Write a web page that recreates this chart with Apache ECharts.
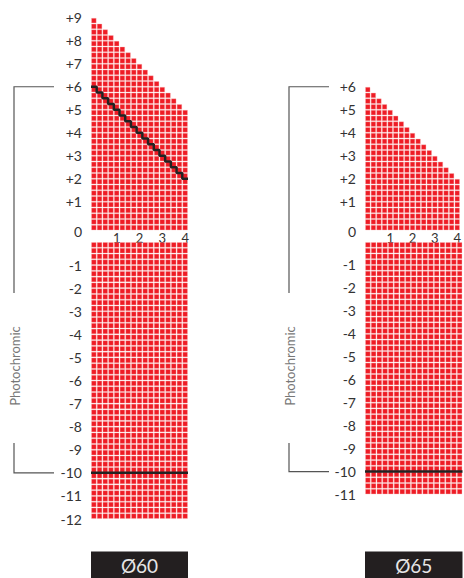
<!DOCTYPE html>
<html>
<head>
<meta charset="utf-8">
<script src="https://cdn.jsdelivr.net/npm/echarts@6/dist/echarts.min.js"></script>
<style>
html,body{margin:0;padding:0;background:#fff;}
#c{width:464px;height:578px;}
</style>
</head>
<body>
<div id="c"></div>
<script>
// ---- data ----
const cylValues = [0, 0.25, 0.5, 0.75, 1, 1.25, 1.5, 1.75, 2, 2.25, 2.5, 2.75, 3, 3.25, 3.5, 3.75, 4];
const maxSph60 = [9, 8.75, 8.5, 8.25, 8, 7.75, 7.5, 7.25, 7, 6.75, 6.5, 6.25, 6, 5.75, 5.5, 5.25, 5];
const minSph60 = [-12, -12, -12, -12, -12, -12, -12, -12, -12, -12, -12, -12, -12, -12, -12, -12, -12];
const maxSph65 = [6, 5.75, 5.5, 5.25, 5, 4.75, 4.5, 4.25, 4, 3.75, 3.5, 3.25, 3, 2.75, 2.5, 2.25, 2];
const minSph65 = [-11, -11, -11, -11, -11, -11, -11, -11, -11, -11, -11, -11, -11, -11, -11, -11, -11];
const sphStep = 0.25;
const photoMaxSum = 6;     // photochromic: sphere + cylinder <= +6
const photoMinSph = -10;   // photochromic: sphere >= -10
const upperTicks60 = [0, 1, 2, 3, 4, 5, 6, 7, 8, 9];
const lowerTicks60 = [-1, -2, -3, -4, -5, -6, -7, -8, -9, -10, -11, -12];
const upperTicks65 = [0, 1, 2, 3, 4, 5, 6];
const lowerTicks65 = [-1, -2, -3, -4, -5, -6, -7, -8, -9, -10, -11];
const cylTicks = [1, 2, 3, 4];
const lensLabels = ['Ø60', 'Ø65'];
const sideLabel = 'Photochromic';

// ---- build ----
const RED = '#ee1c25';
const FONT = 'Lato, "DejaVu Sans", sans-serif';
const PX = 23.0; // px per diopter (upper)

function cells(maxArr, minArr, upper) {
  const out = [];
  cylValues.forEach((c, i) => {
    for (let s = maxArr[i]; s >= minArr[i] - 1e-9; s -= sphStep) {
      const v = Math.round(s * 100) / 100;
      if (upper && v >= 0) out.push([c, v, v - sphStep, v]);
      if (!upper && v < 0) out.push([c, v, v, v + sphStep]);
    }
  });
  return out;
}

function renderCell(params, api) {
  const c = api.value(0), y0 = api.value(2), y1 = api.value(3);
  const p0 = api.coord([c - 0.125, y1]);
  const p1 = api.coord([c + 0.125, y0]);
  return {
    type: 'rect',
    shape: { x: p0[0] + 0.55, y: p0[1] + 0.55, width: p1[0] - p0[0] - 1.1, height: p1[1] - p0[1] - 1.1 },
    style: { fill: RED, stroke: 'rgba(250,170,170,0.55)', lineWidth: 0.6 }
  };
}

const panels = [
  { left: 91, width: 97, max: maxSph60, min: minSph60, up: upperTicks60, lo: lowerTicks60, loBottom: 519 },
  { left: 365, width: 97.5, max: maxSph65, min: minSph65, up: upperTicks65, lo: lowerTicks65, loBottom: 494.5 }
];
const upperBottom = 230.5;
const lowerTop = 242;

const grids = [], xAxes = [], yAxes = [], series = [];
panels.forEach((p, k) => {
  const upMax = Math.max.apply(null, p.max);
  const loMin = Math.min.apply(null, p.min);
  const upH = (upMax + sphStep) * PX;
  grids.push({ left: p.left, width: p.width, top: upperBottom - upH, height: upH });
  grids.push({ left: p.left, width: p.width, top: lowerTop, height: p.loBottom - lowerTop });
  const gi = k * 2;
  // upper
  xAxes.push({
    gridIndex: gi, type: 'value', min: -0.125, max: 4.125,
    axisLine: { show: false }, axisTick: { show: false }, splitLine: { show: false },
    axisLabel: { customValues: cylTicks, margin: 1, fontSize: 13, color: '#333', fontFamily: FONT }
  });
  yAxes.push({
    gridIndex: gi, type: 'value', min: -sphStep, max: upMax,
    axisLine: { show: false }, axisTick: { show: false }, splitLine: { show: false },
    axisLabel: {
      customValues: p.up, margin: 9, fontSize: 14, color: '#333', fontFamily: FONT,
      formatter: v => v > 0 ? '{n|+' + v + '}' : '{z|' + v + '}',
      rich: { n: { fontSize: 14, color: '#333', fontFamily: FONT }, z: { fontSize: 14, color: '#333', fontFamily: FONT, padding: [14, 0, 0, 0] } }
    }
  });
  // lower
  xAxes.push({
    gridIndex: gi + 1, type: 'value', min: -0.125, max: 4.125, show: false
  });
  yAxes.push({
    gridIndex: gi + 1, type: 'value', min: loMin, max: 0,
    axisLine: { show: false }, axisTick: { show: false }, splitLine: { show: false },
    axisLabel: { customValues: p.lo, margin: 9, fontSize: 14, color: '#333', fontFamily: FONT, formatter: v => '' + v }
  });
  series.push({ type: 'custom', xAxisIndex: gi, yAxisIndex: gi, renderItem: renderCell, data: cells(p.max, p.min, true), silent: true, clip: false });
  series.push({ type: 'custom', xAxisIndex: gi + 1, yAxisIndex: gi + 1, renderItem: renderCell, data: cells(p.max, p.min, false), silent: true, clip: false });
  // photochromic limits
  if (upMax > photoMaxSum - cylValues[0]) {
    const pts = cylValues.map(c => [c - 0.125, photoMaxSum - c]);
    pts.push([cylValues[cylValues.length - 1] + 0.125, photoMaxSum - cylValues[cylValues.length - 1]]);
    series.push({ type: 'line', xAxisIndex: gi, yAxisIndex: gi, step: 'end', data: pts, symbol: 'none', silent: true,
      lineStyle: { color: '#222', width: 2.5 }, z: 5 });
  }
  series.push({ type: 'line', xAxisIndex: gi + 1, yAxisIndex: gi + 1, data: [[-0.125, photoMinSph], [4.125, photoMinSph]],
    symbol: 'none', silent: true, lineStyle: { color: '#222', width: 2.5 }, z: 5 });
});

const chart = echarts.init(document.getElementById('c'), null, { renderer: 'svg' });
chart.setOption({ animation: false, grid: grids, xAxis: xAxes, yAxis: yAxes, series: series });

// decorations: photochromic brackets and lens size boxes
const graphics = [];
const bx = [14, 289];
panels.forEach((p, k) => {
  const gi = k * 2;
  const yTop = chart.convertToPixel({ gridIndex: gi }, [0, Math.min(photoMaxSum, Math.max.apply(null, p.max))])[1];
  const yBot = chart.convertToPixel({ gridIndex: gi + 1 }, [0, photoMinSph])[1];
  const x = bx[k], xe = x + 40;
  const mid = 366;
  graphics.push({ type: 'polyline', shape: { points: [[xe, yTop], [x, yTop], [x, mid - 73]] }, style: { stroke: '#555', lineWidth: 1.2, fill: null } });
  graphics.push({ type: 'polyline', shape: { points: [[x, mid + 77], [x, yBot], [xe, yBot]] }, style: { stroke: '#555', lineWidth: 1.2, fill: null } });
  graphics.push({ type: 'text', x: x + 1, y: mid, rotation: Math.PI / 2,
    style: { text: sideLabel, fontSize: 13, fontFamily: FONT, fill: '#777', align: 'center', verticalAlign: 'middle' } });
  const gl = p.left, gw = p.width;
  graphics.push({ type: 'rect', shape: { x: gl, y: 551.5, width: gw, height: 27 }, style: { fill: '#231f20' } });
  graphics.push({ type: 'text', x: gl + gw / 2, y: 565, style: { text: lensLabels[k], fontSize: 19, fontFamily: FONT, fill: '#e6e6e6', align: 'center', verticalAlign: 'middle' } });
});
chart.setOption({ graphic: graphics });
</script>
</body>
</html>
